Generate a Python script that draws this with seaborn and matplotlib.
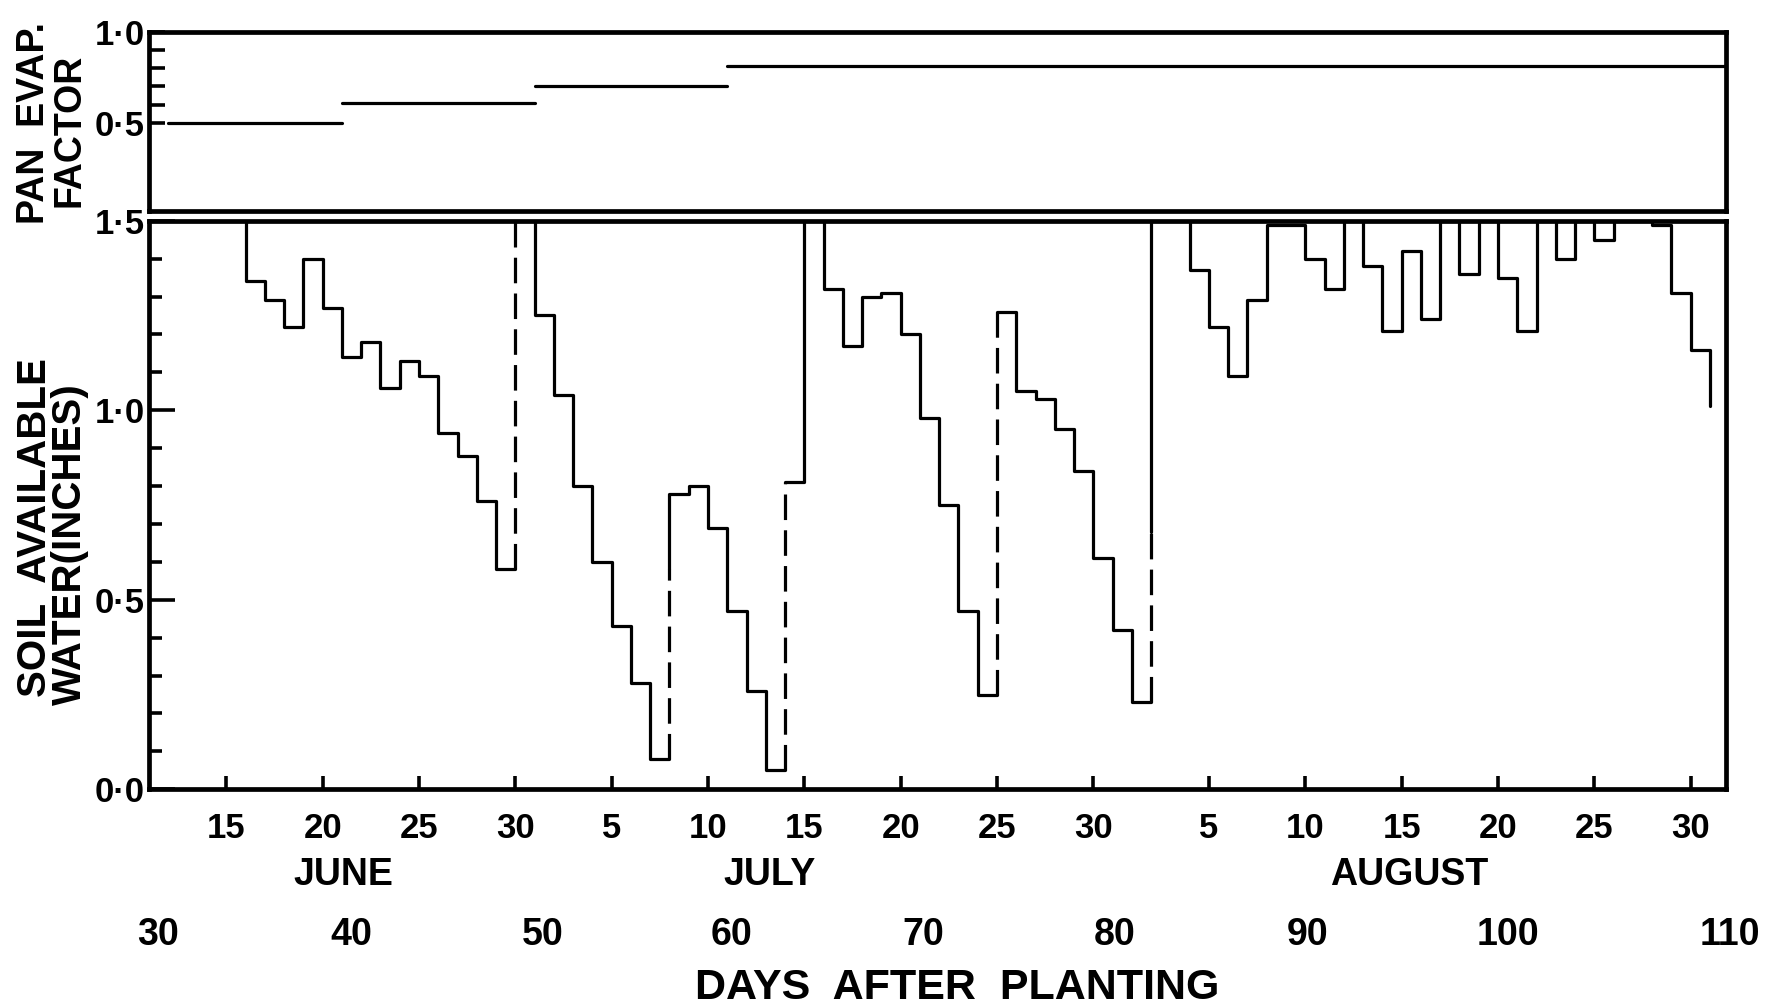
import numpy as np
import pandas as pd
import matplotlib
matplotlib.use('Agg')
import matplotlib.pyplot as plt
import seaborn as sns

# pan evaporation factor, one level per growth stage (days after planting)
pan_start = [31, 40, 50, 60]
pan_end = [40, 50, 60, 111.8]
pan_factor = [0.50, 0.61, 0.70, 0.81]

# soil available water (inches), value held from each day to the next
first_day = 30
soil_water = [1.50, 1.50, 1.50, 1.50, 1.50, 1.34, 1.29, 1.22, 1.40, 1.27,   # 30-39
              1.14, 1.18, 1.06, 1.13, 1.09, 0.94, 0.88, 0.76, 0.58, 1.50,   # 40-49
              1.25, 1.04, 0.80, 0.60, 0.43, 0.28, 0.08, 0.78, 0.80, 0.69,   # 50-59
              0.47, 0.26, 0.05, 0.81, 1.50, 1.32, 1.17, 1.30, 1.31, 1.20,   # 60-69
              0.98, 0.75, 0.47, 0.25, 1.26, 1.05, 1.03, 0.95, 0.84, 0.61,   # 70-79
              0.42, 0.23, 1.50, 1.50, 1.37, 1.22, 1.09, 1.29, 1.49, 1.49,   # 80-89
              1.40, 1.32, 1.50, 1.38, 1.21, 1.42, 1.24, 1.50, 1.36, 1.50,   # 90-99
              1.35, 1.21, 1.50, 1.40, 1.50, 1.45, 1.50, 1.50, 1.49, 1.31,   # 100-109
              1.16]                                                         # 110
last_day = 111
last_water = 1.01

# irrigations: dashed rise up to irr_top, the rest of the rise is solid
irr_day = [49, 57, 63, 74, 82]
irr_top = [1.50, 0.58, 0.81, 1.26, 0.68]

# calendar ticks
planting = pd.Timestamp('1970-05-12')
month_ticks = ['06-15', '06-20', '06-25', '06-30', '07-05', '07-10', '07-15', '07-20',
               '07-25', '07-30', '08-05', '08-10', '08-15', '08-20', '08-25', '08-30']
month_names = ['JUNE', 'JULY', 'AUGUST']
month_name_x = [40.1, 62.2, 95.4]
dap_labels = [30, 40, 50, 60, 70, 80, 90, 100, 110]
dap_label_x = [30.44, 40.48, 50.41, 60.23, 70.16, 80.09, 90.13, 100.53, 112.03]

# build solid step pieces, broken at the irrigation days
days = np.arange(first_day, first_day + len(soil_water))
rows = []
seg = 0
for d, w in zip(days, soil_water):
    if d in irr_day:
        rows.append((seg, d, soil_water[d - first_day - 1]))
        seg += 1
        rows.append((seg, d, irr_top[irr_day.index(d)]))
    rows.append((seg, d, w))
rows.append((seg, last_day, last_water))
soil = pd.DataFrame(rows, columns=['seg', 'day', 'water'])
irr_low = [soil_water[d - first_day - 1] for d in irr_day]

pan = pd.DataFrame({'seg': list(range(4)) * 2,
                    'day': pan_start + pan_end,
                    'factor': pan_factor * 2})

tick_days = (pd.to_datetime(['1970-' + t for t in month_ticks]) - planting).days
tick_labels = [str(int(t[3:])) for t in month_ticks]

sns.set_style('white')
plt.rcParams['font.family'] = ['Liberation Sans Narrow', 'Liberation Sans', 'DejaVu Sans']
plt.rcParams['font.weight'] = 'bold'
for key in ('text.color', 'xtick.color', 'ytick.color', 'axes.labelcolor', 'axes.edgecolor'):
    plt.rcParams[key] = 'black'
lab_font = dict(family=['Liberation Sans', 'DejaVu Sans'], fontweight='bold', color='black')

fig = plt.figure(figsize=(17.66, 10.07), dpi=100)
ax_top = fig.add_axes([0.0845, 0.7908, 0.8928, 0.1777])
ax = fig.add_axes([0.0845, 0.2162, 0.8928, 0.5646])

xmax = 111.83
lw_frame = 3.4
lw_line = 2.3

# ---- pan evaporation factor panel
sns.lineplot(data=pan, x='day', y='factor', units='seg', estimator=None, sort=False,
             color='black', lw=lw_line, ax=ax_top, legend=False)
ax_top.set_xlim(30, xmax)
ax_top.set_ylim(0.02, 1.0)
ax_top.set_xticks([])
ax_top.set_yticks([0.5, 1.0])
ax_top.set_yticklabels(['0·5', '1·0'])
ax_top.set_yticks([0.6, 0.7, 0.8, 0.9], minor=True)
ax_top.tick_params(axis='y', which='both', direction='in', length=11.5, width=2.6,
                   pad=3, labelsize=25, left=True, colors='black')
ax_top.set_xlabel('')
ax_top.set_ylabel('')

# ---- soil water panel
sns.lineplot(data=soil, x='day', y='water', units='seg', estimator=None, sort=False,
             drawstyle='steps-post', color='black', lw=lw_line, ax=ax, legend=False)
ax.vlines(irr_day, irr_low, irr_top, colors='black', lw=lw_line,
          linestyles=(0, (8, 3.2)))
ax.set_xlim(30, xmax)
ax.set_ylim(0, 1.5)
ax.set_yticks([0, 0.5, 1.0, 1.5])
ax.set_yticklabels(['0·0', '0·5', '1·0', '1·5'])
ax.set_yticks([v / 10 for v in range(1, 15) if v % 5], minor=True)
ax.tick_params(axis='y', which='major', direction='in', length=19, width=2.6,
               pad=3, labelsize=25, left=True, colors='black')
ax.tick_params(axis='y', which='minor', direction='in', length=9.5, width=2.6,
               left=True, colors='black')
ax.set_xticks(tick_days)
ax.set_xticklabels(tick_labels)
ax.tick_params(axis='x', which='major', direction='in', length=9.5, width=2.6,
               pad=16, labelsize=25, bottom=True, colors='black')
ax.set_xlabel('')
ax.set_ylabel('')

for a in (ax_top, ax):
    for sp in a.spines.values():
        sp.set_visible(True)
        sp.set_linewidth(lw_frame)
        sp.set_color('black')

# month names and days-after-planting row
trans = ax.get_xaxis_transform()
for name, x in zip(month_names, month_name_x):
    ax.text(x, -0.151, name, transform=trans, ha='center', va='center',
            fontsize=27, **lab_font)
for lab, x in zip(dap_labels, dap_label_x):
    ax.text(x, -0.256, str(lab), transform=trans, ha='center', va='center',
            fontsize=27, fontweight='bold', color='black', clip_on=False)

fig.text(0.542, 0.019, 'DAYS  AFTER  PLANTING', ha='center', va='center',
         fontsize=31, **lab_font)
fig.text(0.0198, 0.476, 'SOIL  AVAILABLE', rotation=90, ha='center', va='center',
         fontsize=29, **lab_font)
fig.text(0.0396, 0.460, 'WATER(INCHES)', rotation=90, ha='center', va='center',
         fontsize=29, **lab_font)
fig.text(0.0192, 0.878, 'PAN  EVAP.', rotation=90, ha='center', va='center',
         fontsize=27, **lab_font)
fig.text(0.0396, 0.871, 'FACTOR', rotation=90, ha='center', va='center',
         fontsize=27, **lab_font)

fig.savefig('out.png', dpi=100)
